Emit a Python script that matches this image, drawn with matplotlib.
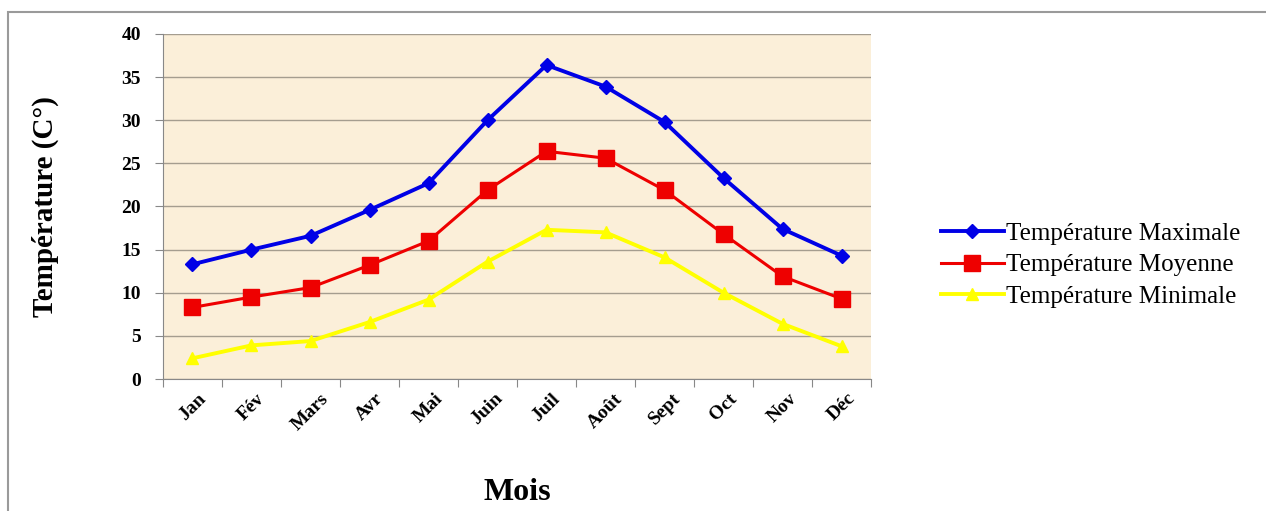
import matplotlib.pyplot as plt
from matplotlib.patches import Rectangle

mois = ["Jan", "Fév", "Mars", "Avr", "Mai", "Juin",
        "Juil", "Août", "Sept", "Oct", "Nov", "Déc"]
t_max = [13.3, 15.0, 16.6, 19.6, 22.7, 30.0, 36.4, 33.9, 29.8, 23.3, 17.4, 14.3]
t_moy = [8.3, 9.5, 10.6, 13.2, 16.0, 21.9, 26.4, 25.6, 21.9, 16.8, 11.9, 9.3]
t_min = [2.4, 3.9, 4.4, 6.6, 9.2, 13.6, 17.3, 17.0, 14.1, 10.0, 6.4, 3.8]
y_ticks = [0, 5, 10, 15, 20, 25, 30, 35, 40]

plt.rcParams['font.family'] = ['Liberation Serif', 'DejaVu Serif']

fig = plt.figure(figsize=(12.66, 5.11), dpi=100)
# outer chart frame
fig.patches.append(Rectangle((8 / 1266, -0.01), 1.0, 1 - 12 / 511 + 0.01,
                             transform=fig.transFigure, fill=False,
                             edgecolor="#9a9a9a", linewidth=1.5))

ax = fig.add_axes([163 / 1266, 1 - 379 / 511, 708 / 1266, 345 / 511])
ax.set_facecolor("#fbefd9")

x = list(range(len(mois)))
ax.plot(x, t_max, color="#0000e6", lw=2.8, marker="D", ms=7,
        label="Température Maximale", zorder=4)
ax.plot(x, t_moy, color="#ee0000", lw=2.2, marker="s", ms=11,
        label="Température Moyenne", zorder=4)
ax.plot(x, t_min, color="#ffff00", lw=2.8, marker="^", ms=8,
        label="Température Minimale", zorder=4)

ax.set_xlim(-0.5, 11.5)
ax.set_ylim(0, 40)
ax.set_yticks(y_ticks)
ax.set_yticklabels([str(v) for v in y_ticks], fontsize=14, fontweight="bold")
ax.yaxis.grid(True, color="#a59d8f", lw=1)
ax.set_axisbelow(True)

# category ticks sit between the months, labels centred on them
ax.set_xticks([i - 0.5 for i in range(13)], minor=False)
ax.set_xticklabels([])
ax.set_xticks(x, minor=True)
ax.set_xticklabels(mois, minor=True, rotation=45, ha="center", va="top",
                   fontsize=14, fontweight="bold")
ax.tick_params(axis="x", which="minor", length=0, pad=8)
ax.tick_params(axis="x", which="major", length=6, color="#888888")
ax.tick_params(axis="y", length=6, color="#888888", pad=10)

for side in ["top", "right"]:
    ax.spines[side].set_visible(False)
ax.spines["left"].set_color("#888888")
ax.spines["bottom"].set_color("#888888")

ax.set_ylabel("Température (C°)", fontsize=21, fontweight="bold", labelpad=45)
ax.set_xlabel("Mois", fontsize=23, fontweight="bold", labelpad=32)

ax.legend(loc="center left", bbox_to_anchor=(1.085, 0.33), frameon=False,
          fontsize=18, handlelength=2.5, handletextpad=0.1,
          labelspacing=0.35, borderaxespad=0)

fig.savefig("out.png", dpi=100)
